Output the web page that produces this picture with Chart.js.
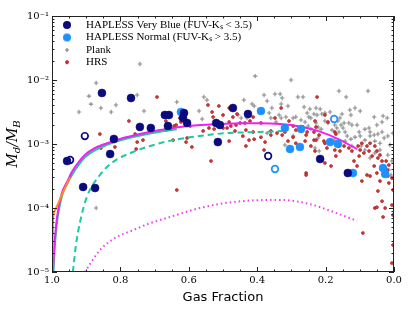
<!DOCTYPE html>
<html>
<head>
<meta charset="utf-8">
<script src="https://cdn.jsdelivr.net/npm/chart.js@4.4.1/dist/chart.umd.min.js"></script>
<style>
  html, body { margin: 0; padding: 0; background: #fff; }
  canvas { display: block; }
</style>
</head>
<body>
<canvas id="grafico" width="415" height="312"></canvas>
<script>
// gas fraction / dust-to-baryon ratio
var seriesNames = ['HAPLESS Very Blue (FUV-K\u209b < 3.5)', 'HAPLESS Normal (FUV-K\u209b > 3.5)', 'Plank', 'HRS'];

var veryBlue = [[0.854,6.27e-3],[0.769,5.23e-3],[0.743,1.85e-3],[0.711,1.78e-3],[0.661,1.91e-3],[0.670,2.84e-3],[0.658,2.84e-3],
  [0.614,3.05e-3],[0.617,2.55e-3],[0.605,2.13e-3],[0.819,1.20e-3],[0.830,6.98e-4],[0.956,5.42e-4],[0.909,2.13e-4],[0.874,2.05e-4],
  [0.515,1.07e-3],[0.471,3.65e-3],[0.427,2.94e-3],[0.520,2.13e-3],[0.509,1.98e-3],[0.216,5.83e-4],[0.135,3.52e-4]];
var veryBlueOpen = [[0.947,5.62e-4],[0.904,1.33e-3],[0.368,6.49e-4]];

var normal = [[0.623,3.16e-3],[0.389,3.28e-3],[0.319,1.78e-3],[0.272,1.72e-3],[0.304,8.35e-4],[0.275,8.98e-4],[0.187,1.07e-3],
  [0.164,1.0e-3],[0.120,3.52e-4],[0.032,4.22e-4],[0.026,3.40e-4]];
var normalOpen = [[0.175,2.46e-3],[0.348,4.07e-4]];

var plank = [[0.871,9.0e-3],[0.892,5.6e-3],[0.886,4.2e-3],[0.857,3.65e-3],[0.921,3.16e-3],[0.827,3.16e-3],[0.813,4.07e-3],[0.751,5.83e-3],[0.743,1.78e-2],[0.731,3.28e-3],
  [0.635,4.53e-3],[0.556,5.42e-3],[0.547,4.87e-3],[0.570,3.28e-3],[0.561,2.46e-3],[0.406,1.15e-2],[0.301,1.0e-2],[0.439,4.87e-3],[0.380,5.83e-3],[0.348,6.04e-3],
  [0.333,6.04e-3],[0.327,5.23e-3],[0.371,4.70e-3],[0.357,3.65e-3],[0.330,4.22e-3],[0.281,5.42e-3],[0.266,5.42e-3],[0.310,3.93e-3],[0.263,3.79e-3],[0.246,3.52e-3],
  [0.228,3.65e-3],[0.415,4.22e-3],[0.409,3.93e-3],[0.365,3.05e-3],[0.360,2.55e-3],[0.336,2.84e-3],[0.330,2.55e-3],[0.316,2.64e-3],[0.295,2.55e-3],[0.287,2.64e-3],
  [0.254,3.05e-3],[0.249,2.64e-3],[0.243,2.55e-3],[0.234,2.94e-3],[0.456,2.84e-3],[0.447,2.55e-3],[0.430,2.55e-3],[0.345,2.21e-3],[0.272,2.37e-3],[0.260,2.21e-3],
  [0.228,2.13e-3],[0.251,1.91e-3],[0.243,1.71e-3],[0.161,6.74e-3],[0.140,5.42e-3],[0.076,6.74e-3],[0.216,3.52e-3],[0.225,2.84e-3],[0.211,2.94e-3],[0.202,3.05e-3],
  [0.152,2.94e-3],[0.129,3.40e-3],[0.114,3.65e-3],[0.099,3.28e-3],[0.126,2.84e-3],[0.058,2.64e-3],[0.032,2.74e-3],[0.035,2.21e-3],[0.202,2.29e-3],[0.193,2.13e-3],
  [0.164,2.29e-3],[0.158,2.55e-3],[0.146,2.13e-3],[0.155,1.98e-3],[0.149,1.78e-3],[0.132,2.13e-3],[0.123,1.98e-3],[0.108,1.98e-3],[0.085,1.71e-3],[0.073,1.78e-3],
  [0.070,1.54e-3],[0.102,1.54e-3],[0.047,1.43e-3],[0.035,1.54e-3],[0.222,1.84e-3],[0.213,1.71e-3],[0.181,1.65e-3],[0.173,1.98e-3],[0.167,1.78e-3],[0.143,1.54e-3],
  [0.161,1.54e-3],[0.020,2.55e-3],[0.003,1.48e-3],[0.050,1.98e-3],[0.219,7.77e-4],[0.137,1.33e-3],[0.126,1.19e-3],[0.114,1.28e-3],[0.099,1.33e-3],[0.085,1.15e-3],
  [0.070,1.33e-3],[0.058,1.38e-3],[0.056,1.11e-3],[0.041,1.03e-3],[0.029,1.24e-3],[0.018,1.33e-3],[0.012,9.65e-4],[0.041,8.06e-4],[0.056,7.24e-4],[0.070,6.04e-4],
  [0.018,6.74e-4],[0.006,5.42e-4],[0.015,3.93e-4],[0.009,3.28e-4],[0.085,8.06e-4],[0.096,9.31e-4],[0.123,9.31e-4],[0.143,1.11e-3],[0.175,1.15e-3],[0.222,1.24e-3],
  [0.319,9.65e-4],[0.295,1.33e-3],[0.371,1.48e-3],[0.231,8.66e-4],[0.871,1.0e-4],[0.187,3.16e-3]];

var hrs = [[0.956,1.91e-2],[0.775,2.29e-3],[0.860,1.43e-3],[0.757,1.43e-3],[0.693,5.42e-3],[0.857,8.66e-4],[0.816,8.98e-4],[0.751,1.07e-3],[0.667,1.65e-3],[0.626,2.55e-3],
  [0.643,1.91e-3],[0.652,1.71e-3],[0.605,1.24e-3],[0.591,8.98e-4],[0.544,4.07e-3],[0.541,1.78e-3],[0.596,1.91e-3],[0.512,3.93e-3],[0.482,3.65e-3],[0.532,3.16e-3],
  [0.529,2.64e-3],[0.500,2.84e-3],[0.482,2.21e-3],[0.623,2.21e-3],[0.667,2.29e-3],[0.637,1.98e-3],[0.558,1.60e-3],[0.526,1.71e-3],[0.500,1.78e-3],[0.488,1.78e-3],
  [0.471,2.64e-3],[0.459,2.94e-3],[0.477,1.91e-3],[0.462,1.98e-3],[0.450,2.13e-3],[0.436,2.13e-3],[0.421,2.29e-3],[0.412,2.64e-3],[0.389,2.13e-3],[0.348,2.55e-3],
  [0.307,2.29e-3],[0.295,1.91e-3],[0.266,1.84e-3],[0.225,5.42e-3],[0.330,3.65e-3],[0.465,1.60e-3],[0.433,1.65e-3],[0.412,1.54e-3],[0.360,1.60e-3],[0.342,1.48e-3],
  [0.319,1.54e-3],[0.287,1.65e-3],[0.254,1.54e-3],[0.234,1.54e-3],[0.228,1.84e-3],[0.231,2.29e-3],[0.202,2.84e-3],[0.193,2.21e-3],[0.173,1.54e-3],[0.170,1.43e-3],
  [0.234,1.15e-3],[0.219,1.38e-3],[0.205,1.11e-3],[0.202,5.05e-4],[0.184,4.53e-4],[0.170,6.49e-4],[0.117,5.42e-4],[0.108,4.53e-4],[0.102,6.49e-4],[0.099,8.06e-4],
  [0.088,7.24e-4],[0.079,3.28e-4],[0.094,2.64e-4],[0.070,3.16e-4],[0.058,4.53e-4],[0.050,3.52e-4],[0.047,1.84e-4],[0.041,2.64e-4],[0.035,1.28e-4],[0.056,1.0e-4],
  [0.018,3.16e-4],[0.015,2.46e-4],[0.006,2.94e-4],[0.003,1.91e-4],[0.020,3.93e-4],[0.015,4.70e-4],[0.073,7.77e-4],[0.064,6.49e-4],[0.047,6.04e-4],[0.041,6.74e-4],
  [0.035,5.42e-4],[0.023,5.42e-4],[0.079,9.31e-4],[0.094,1.03e-3],[0.105,9.31e-4],[0.070,1.03e-3],[0.056,9.31e-4],[0.050,7.77e-4],[0.123,7.77e-4],[0.132,8.66e-4],
  [0.146,9.31e-4],[0.161,9.31e-4],[0.158,7.77e-4],[0.173,8.06e-4],[0.196,8.66e-4],[0.202,1.03e-3],[0.091,4.07e-5],[0.006,1.38e-5],[0.003,2.64e-5],[0.003,7.77e-5],
  [0.032,7.24e-5],[0.050,1.03e-4],[0.026,1.0e-4],[0.006,1.11e-4],[0.535,5.42e-4],[0.257,3.52e-4],[0.257,3.28e-4],[0.442,1.33e-3],[0.424,1.15e-3],[0.409,1.19e-3],
  [0.389,1.28e-3],[0.377,1.07e-3],[0.380,8.06e-4],[0.433,9.31e-4],[0.482,1.11e-3],[0.360,1.38e-3],[0.327,1.38e-3],[0.310,1.11e-3],[0.295,1.28e-3],[0.287,1.03e-3],
  [0.260,1.11e-3],[0.257,1.38e-3],[0.243,9.31e-4],[0.228,1.15e-3],[0.231,7.77e-4],[0.646,1.15e-3],[0.608,1.07e-3],[0.635,1.91e-4],[0.734,1.15e-3],[0.754,8.35e-4]];

// model tracks
var modelMagenta = [[0.997,1e-5],[0.994,2.2e-5],[0.988,5.4e-5],[0.982,9.3e-5],[0.971,1.71e-4],[0.956,2.55e-4],[0.942,3.65e-4],[0.924,5.05e-4],
  [0.904,6.73e-4],[0.874,8.66e-4],[0.845,1.0e-3],[0.801,1.20e-3],[0.743,1.43e-3],[0.684,1.65e-3],[0.626,1.85e-3],[0.567,1.98e-3],[0.509,2.05e-3],
  [0.450,2.11e-3],[0.392,2.11e-3],[0.333,2.05e-3],[0.275,1.87e-3],[0.216,1.56e-3],[0.158,1.16e-3],[0.108,8.3e-4]];
var modelTeal = [[0.996,1e-5],[0.993,2.0e-5],[0.987,5.0e-5],[0.981,8.7e-5],[0.970,1.6e-4],[0.955,2.4e-4],[0.940,3.4e-4],[0.922,4.7e-4],
  [0.902,6.3e-4],[0.872,8.1e-4],[0.843,9.5e-4],[0.800,1.14e-3],[0.742,1.36e-3],[0.684,1.56e-3],[0.635,1.70e-3]];
var modelOrange = [[0.999,1e-5],[0.998,3e-5],[0.997,6.5e-5],[0.992,9e-5],[0.980,1.25e-4],[0.965,1.9e-4],[0.947,3.0e-4]];
var modelDashed = [[0.939,1e-5],[0.930,2.64e-5],[0.918,6.04e-5],[0.898,1.49e-4],[0.860,3.28e-4],[0.822,5.23e-4],[0.763,7.5e-4],
  [0.713,9.3e-4],[0.646,1.15e-3],[0.547,1.38e-3],[0.480,1.49e-3],[0.392,1.54e-3],[0.319,1.6e-3]];
var modelDotted = [[0.904,1e-5],[0.860,2.2e-5],[0.816,3.4e-5],[0.763,4.5e-5],[0.713,5.8e-5],[0.664,7.0e-5],[0.567,1.0e-4],
  [0.471,1.24e-4],[0.371,1.33e-4],[0.325,1.33e-4],[0.246,1.15e-4],[0.178,8.7e-5],[0.108,6.3e-5]];

var xTicks = [0, 0.2, 0.4, 0.6, 0.8, 1.0];
var xTickLabels = ['0.0', '0.2', '0.4', '0.6', '0.8', '1.0'];
var yTicks = [1e-5, 1e-4, 1e-3, 1e-2, 1e-1];
var yTickLabels = ['10\u207b\u2075', '10\u207b\u2074', '10\u207b\u00b3', '10\u207b\u00b2', '10\u207b\u00b9'];

var NAVY = '#0b0b7d';
var BLUE = '#1e90ff';

function pts(list) {
  return list.map(function(p){ return {x: p[0], y: p[1]}; });
}

function marca(dibujar) {
  var c = document.createElement('canvas');
  c.width = 12; c.height = 12;
  dibujar(c.getContext('2d'));
  return c;
}
var legendMarks = [
  marca(function(g){ g.fillStyle = NAVY; g.beginPath(); g.arc(6, 6, 4, 0, Math.PI*2); g.fill(); }),
  marca(function(g){ g.fillStyle = BLUE; g.beginPath(); g.arc(6, 6, 4, 0, Math.PI*2); g.fill(); }),
  marca(function(g){ g.strokeStyle = '#808080'; g.lineWidth = 1.2; g.beginPath(); g.moveTo(4, 6); g.lineTo(8, 6); g.moveTo(6, 4); g.lineTo(6, 8); g.stroke(); }),
  marca(function(g){ g.fillStyle = '#cc2b2b'; g.beginPath(); g.arc(6, 6, 1.6, 0, Math.PI*2); g.fill(); })
];

function curva(data, color, dash, width, order) {
  return {
    data: pts(data), showLine: true, borderColor: color, borderWidth: width, borderDash: dash,
    pointRadius: 0, pointHoverRadius: 0, fill: false, cubicInterpolationMode: 'monotone', order: order
  };
}

var datasets = [
  { label: seriesNames[0], data: pts(veryBlue), pointStyle: 'circle', pointRadius: 4, backgroundColor: NAVY, borderColor: NAVY, borderWidth: 0.5, order: 0 },
  { label: seriesNames[1], data: pts(normal), pointStyle: 'circle', pointRadius: 4, backgroundColor: BLUE, borderColor: BLUE, borderWidth: 0.5, order: 0 },
  { label: seriesNames[2], data: pts(plank), pointStyle: 'cross', pointRadius: 2.2, borderColor: '#8a8a8a', borderWidth: 1.1, order: 4 },
  { label: seriesNames[3], data: pts(hrs), pointStyle: 'circle', pointRadius: 1.5, backgroundColor: '#d23a3a', borderColor: '#a51818', borderWidth: 0.6, order: 3 },
  { label: 'open1', data: pts(veryBlueOpen), pointStyle: 'circle', pointRadius: 3.3, backgroundColor: '#fff', borderColor: NAVY, borderWidth: 1.7, order: 0 },
  { label: 'open2', data: pts(normalOpen), pointStyle: 'circle', pointRadius: 3.3, backgroundColor: '#fff', borderColor: BLUE, borderWidth: 1.7, order: 0 },
  curva(modelDotted, '#f03cf0', [1.5, 3], 2, 2),
  curva(modelDashed, '#1ec8a0', [6, 4], 2, 2),
  curva(modelTeal, '#1ec8a0', [], 2, 2),
  curva(modelOrange, '#ff8c1a', [], 2, 0.5),
  curva(modelMagenta, '#f020f0', [], 2, 1)
];

// ticks hacia adentro y marco
var marcoPlugin = {
  id: 'marco',
  afterDatasetsDraw: function(chart) {
    var ctx = chart.ctx, a = chart.chartArea, x = chart.scales.x, y = chart.scales.y;
    ctx.save();
    ctx.strokeStyle = '#222';
    ctx.lineWidth = 1;
    ctx.beginPath();
    function hx(v, len) {
      var p = Math.round(x.getPixelForValue(v)) + 0.5;
      ctx.moveTo(p, a.bottom); ctx.lineTo(p, a.bottom - len);
      ctx.moveTo(p, a.top); ctx.lineTo(p, a.top + len);
    }
    function hy(v, len) {
      var p = Math.round(y.getPixelForValue(v)) + 0.5;
      ctx.moveTo(a.left, p); ctx.lineTo(a.left + len, p);
      ctx.moveTo(a.right, p); ctx.lineTo(a.right - len, p);
    }
    for (var i = 0; i <= 20; i++) hx(i * 0.05, i % 4 === 0 ? 5 : 2.5);
    for (var e = -5; e <= -1; e++) {
      hy(Math.pow(10, e), 5);
      if (e < -1) for (var m = 2; m <= 9; m++) hy(m * Math.pow(10, e), 2.5);
    }
    ctx.stroke();
    ctx.strokeRect(Math.round(a.left) + 0.5, Math.round(a.top) + 0.5, Math.round(a.width) - 1, Math.round(a.height) - 1);
    ctx.restore();
  },
  afterDraw: function(chart) {
    // titulo del eje y: M_d / M_B
    var ctx = chart.ctx;
    var big = 'italic 14px "DejaVu Serif", serif';
    var small = 'italic 10px "DejaVu Serif", serif';
    var partes = [['M', big, 0], ['d', small, 3], ['/', big, 0], ['M', big, 0], ['B', small, 3]];
    ctx.save();
    ctx.translate(17, 144);
    ctx.rotate(-Math.PI / 2);
    ctx.fillStyle = '#000';
    ctx.textBaseline = 'alphabetic';
    var total = 0;
    partes.forEach(function(p){ ctx.font = p[1]; total += ctx.measureText(p[0]).width; });
    var cx = -total / 2;
    partes.forEach(function(p){
      ctx.font = p[1];
      ctx.fillText(p[0], cx, p[2]);
      cx += ctx.measureText(p[0]).width;
    });
    ctx.restore();
  }
};

var tickFont = { family: '"DejaVu Serif", serif', size: 10 };

var config = {
  type: 'scatter',
  data: { datasets: datasets },
  options: {
    responsive: false,
    animation: false,
    devicePixelRatio: 1,
    layout: { padding: { left: 0, right: 21, top: 16, bottom: 0 } },
    plugins: {
      tooltip: { enabled: false },
      legend: {
        position: 'chartArea',
        align: 'start',
        // la leyenda vertical empieza en y=0, el titulo vacio la baja dentro del area
        title: { display: true, text: '', font: { size: 18, lineHeight: 1 }, padding: 0 },
        labels: {
          usePointStyle: true,
          pointStyleWidth: 27,
          padding: 1.5,
          color: '#000',
          font: { family: '"Liberation Serif", serif', size: 11 },
          filter: function(item) { return item.datasetIndex < 4; },
          sort: function(a, b) { return a.datasetIndex - b.datasetIndex; },
          generateLabels: function(chart) {
            var items = Chart.defaults.plugins.legend.labels.generateLabels(chart);
            items.forEach(function(it){ it.pointStyle = legendMarks[it.datasetIndex]; });
            return items;
          }
        }
      }
    },
    scales: {
      x: {
        type: 'linear', reverse: true, min: 0, max: 1,
        grid: { display: false, drawTicks: false },
        border: { display: false },
        afterBuildTicks: function(s) { s.ticks = xTicks.map(function(v){ return {value: v}; }); },
        afterFit: function(s) { s.height = 40; },
        ticks: {
          autoSkip: false, maxRotation: 0, padding: 2, color: '#000', font: tickFont,
          callback: function(v) { return xTickLabels[xTicks.indexOf(v)]; }
        },
        title: { display: true, text: 'Gas Fraction', color: '#000', font: { family: '"DejaVu Sans", sans-serif', size: 13 }, padding: { top: 0, bottom: 7 } }
      },
      y: {
        type: 'logarithmic', min: 1e-5, max: 1e-1,
        grid: { display: false, drawTicks: false },
        border: { display: false },
        afterBuildTicks: function(s) { s.ticks = yTicks.map(function(v){ return {value: v}; }); },
        afterFit: function(s) { s.width = 52; },
        ticks: {
          autoSkip: false, padding: 3, color: '#000', font: tickFont,
          callback: function(v) { return yTickLabels[yTicks.indexOf(v)]; }
        }
      }
    }
  },
  plugins: [marcoPlugin]
};

var myChart = new Chart(document.getElementById('grafico'), config);
</script>
</body>
</html>
